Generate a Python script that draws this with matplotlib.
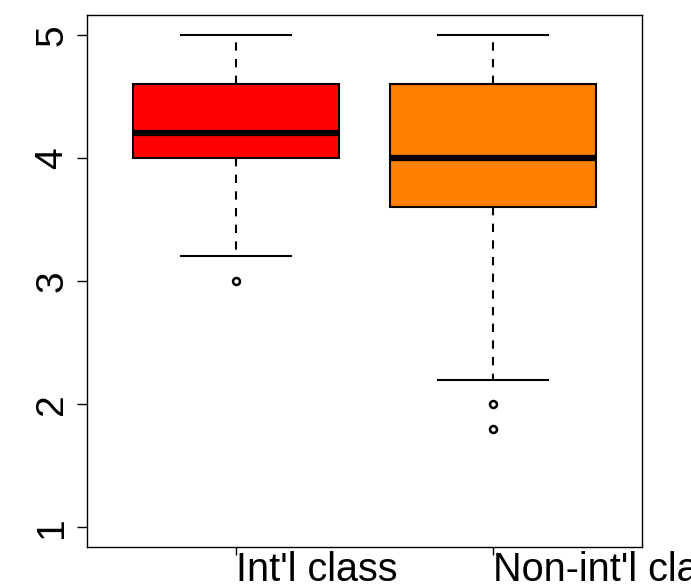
import matplotlib
matplotlib.use("Agg")
import matplotlib.pyplot as plt

plt.rcParams['font.family'] = ['Liberation Sans', 'DejaVu Sans']

# boxplot summary values
groups = ["Int'l class", "Non-int'l class"]
whislo = [3.2, 2.2]
q1 = [4.0, 3.6]
med = [4.2, 4.0]
q3 = [4.6, 4.6]
whishi = [5.0, 5.0]
fliers = [[3.0], [2.0, 1.8]]
colors = ['#FF0000', '#FF7F00']

stats = []
for i in range(len(groups)):
    stats.append(dict(label=groups[i], whislo=whislo[i], q1=q1[i], med=med[i],
                      q3=q3[i], whishi=whishi[i], fliers=fliers[i]))

fig = plt.figure(figsize=(6.91, 5.86), dpi=100)
ax = fig.add_axes([87/691, 39/586, 555/691, 532/586])

bp = ax.bxp(stats, positions=[1, 2], widths=0.8, capwidths=0.43,
            patch_artist=True,
            boxprops=dict(edgecolor='black', linewidth=1.5),
            medianprops=dict(color='black', linewidth=4.5, solid_capstyle='butt'),
            whiskerprops=dict(color='black', linewidth=1.5, linestyle=(0, (4, 4))),
            capprops=dict(color='black', linewidth=1.5),
            flierprops=dict(marker='o', markersize=5, markerfacecolor='none',
                            markeredgecolor='black', markeredgewidth=1.8))
for patch, c in zip(bp['boxes'], colors):
    patch.set_facecolor(c)

ax.set_xlim(0.42, 2.58)
ax.set_ylim(0.84, 5.16)
ax.set_yticks([1, 2, 3, 4, 5])
ax.set_xticks([1, 2])
ax.set_xticklabels(groups, ha='left', fontsize=28.5)
ax.tick_params(axis='x', length=6, width=1, pad=-3)
ax.tick_params(axis='y', length=7, width=1, pad=5, labelsize=28, labelrotation=90)
for lab in ax.get_yticklabels():
    lab.set_va('center')
for s in ax.spines.values():
    s.set_linewidth(1)

fig.savefig('out.png', dpi=100)
